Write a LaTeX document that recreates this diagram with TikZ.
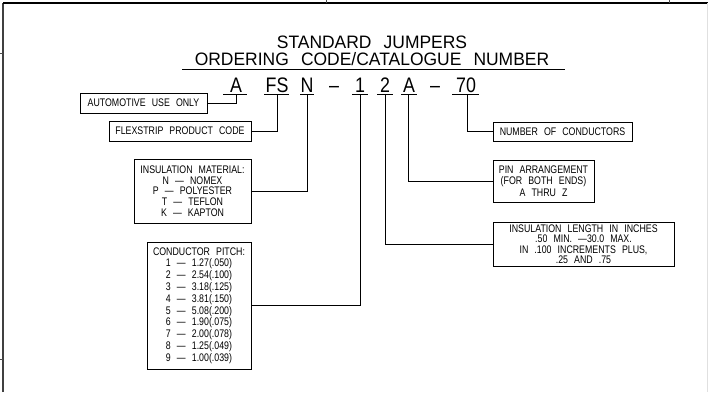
\documentclass[tikz,border=0pt]{standalone}
\usepackage{fontspec}
\setmainfont{Liberation Sans}
\newfontfamily\cadfont[FakeStretch=0.8,WordSpace=2.5]{Liberation Sans}
\newfontfamily\titlefont[FakeStretch=0.97,WordSpace=2.5]{Liberation Sans}
\newfontfamily\codefont[FakeStretch=0.85]{Liberation Sans}
\tikzset{
  box/.style={draw, line width=0.8pt, inner sep=0pt, align=center, font=\cadfont\fontsize{11}{11.8}\selectfont},
  code/.style={anchor=base, inner sep=0pt, font=\codefont\fontsize{21}{21}\selectfont},
  ttl/.style={anchor=base, inner sep=0pt, font=\titlefont\fontsize{18}{18}\selectfont},
  conn/.style={line width=0.8pt},
  uline/.style={line width=0.8pt}
}
\begin{document}
\begin{tikzpicture}[x=1pt,y=-1pt]
\useasboundingbox (0,0) rectangle (708,392);
% frame
\draw[line width=1.3pt, black!75] (3,392) -- (3,3);
\draw[line width=1.2pt] (3,3) -- (708,3);
\draw[line width=0.8pt, black!70] (0,53) -- (3,53) (0,359) -- (3,359) (326,0) -- (326,3) (669,0) -- (669,3);
\draw[line width=1pt, black!12] (707,3) -- (707,392);
% title
\node[ttl] (t1) at (372,48) {STANDARD JUMPERS};
\node[ttl] (t2) at (372,65) {ORDERING CODE/CATALOGUE NUMBER};
\draw[uline] (182,69) -- (565,69);
% code line
\node[code] (cA) at (236,92) {A};
\node[code] (cFS) at (277,92) {FS};
\node[code] (cN) at (307,92) {N};
\node[code] (d1) at (334,92) {–};
\node[code] (c1) at (360,92) {1};
\node[code] (c2) at (385,92) {2};
\node[code] (cA2) at (409,92) {A};
\node[code] (d2) at (435,92) {–};
\node[code] (c70) at (466,92) {70};
\coordinate (uA) at (236,94);
\coordinate (uFS) at (277,94);
\coordinate (uN) at (307,94);
\coordinate (u1) at (360,94);
\coordinate (u2) at (385,94);
\coordinate (uA2) at (408,94);
\coordinate (u70) at (467,94);
\draw[uline] (223,94) -- (247,94) (264,94) -- (289,94) (300,94) -- (314,94)
  (352,94) -- (368,94) (377,94) -- (393,94) (401,94) -- (417,94) (452,94) -- (479,94);
% boxes left
\node[box, minimum width=127pt, minimum height=20pt] (auto) at (143.5,103) {AUTOMOTIVE USE ONLY};
\node[box, minimum width=142pt, minimum height=20pt] (flex) at (180,131) {FLEXSTRIP PRODUCT CODE};
\node[box, minimum width=117pt, minimum height=64pt, font=\cadfont\fontsize{11}{10.7}\selectfont] (mat) at (192.5,191) {INSULATION MATERIAL:\\N — NOMEX\\P — POLYESTER\\T — TEFLON\\K — KAPTON};
\node[box, minimum width=104pt, minimum height=127pt] (pitch) at (199,305.5) {CONDUCTOR PITCH:\\1 — 1.27(.050)\\2 — 2.54(.100)\\3 — 3.18(.125)\\4 — 3.81(.150)\\5 — 5.08(.200)\\6 — 1.90(.075)\\7 — 2.00(.078)\\8 — 1.25(.049)\\9 — 1.00(.039)};
% boxes right
\node[box, minimum width=139pt, minimum height=19pt] (num) at (562.5,131.5) {NUMBER OF CONDUCTORS};
\node[box, minimum width=101pt, minimum height=42pt, font=\cadfont\fontsize{11}{11.5}\selectfont] (pin) at (543.5,181) {PIN ARRANGEMENT\\(FOR BOTH ENDS)\\A THRU Z};
\node[box, minimum width=181pt, minimum height=44pt, font=\cadfont\fontsize{11}{10.5}\selectfont] (len) at (583.5,244) {INSULATION LENGTH IN INCHES\\.50 MIN. —30.0 MAX.\\IN .100 INCREMENTS PLUS,\\.25 AND .75};
% connectors
\draw[conn] (uA) |- (auto.east);
\draw[conn] (uFS) |- (flex.east);
\draw[conn] (uN) |- (mat.east);
\draw[conn] (u1) |- (pitch.east);
\draw[conn] (u2) |- (len.west);
\draw[conn] (uA2) |- (pin.west);
\draw[conn] (u70) |- (num.west);
\end{tikzpicture}
\end{document}
